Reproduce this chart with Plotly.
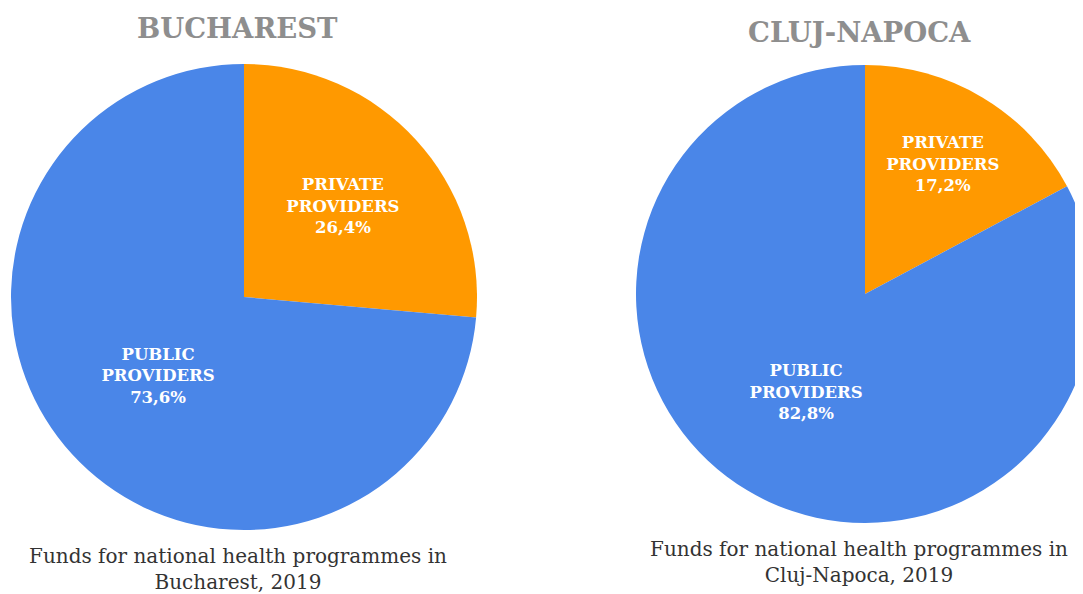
import plotly.graph_objects as go

categories = ["PRIVATE<br>PROVIDERS", "PUBLIC<br>PROVIDERS"]
bucharest_values = [26.4, 73.6]
cluj_values = [17.2, 82.8]
titles = ["BUCHAREST", "CLUJ-NAPOCA"]
captions = ["Funds for national health programmes in<br>Bucharest, 2019",
            "Funds for national health programmes in<br>Cluj-Napoca, 2019"]
colors = ["#FF9900", "#4A86E8"]

W, H = 1100, 594
OFF = 8  # page body margin offset
SERIF = "DejaVu Serif"

fig = go.Figure()

def px_x(x):
    return (x - OFF) / W

def px_y(y):
    return 1 - (y - OFF) / H

def add_pie(values, x0, x1, y0, y1):
    fig.add_trace(go.Pie(
        labels=categories,
        values=values,
        sort=False,
        direction="clockwise",
        rotation=0,
        marker=dict(colors=colors, line=dict(width=0)),
        texttemplate="%{label}<br>%{value:.1f}%",
        textposition="inside",
        insidetextorientation="horizontal",
        textfont=dict(family=SERIF, size=16.5, color="white", weight="bold"),
        hoverinfo="skip",
        showlegend=False,
        domain=dict(x=[px_x(x0), px_x(x1)], y=[px_y(y1), px_y(y0)]),
    ))

add_pie(bucharest_values, 11, 477, 64, 530)
add_pie(cluj_values, 636, 1094, 65, 523)

title_pos = [(237, 28), (859, 32)]
for t, (x, y) in zip(titles, title_pos):
    fig.add_annotation(text=t, x=px_x(x), y=px_y(y),
                       xref="paper", yref="paper", showarrow=False,
                       xanchor="center", yanchor="middle",
                       font=dict(family=SERIF, size=27.5, color="#8E8E8E", weight="bold"))

cap_pos = [(238, 569), (859, 562)]
for c, (x, y) in zip(captions, cap_pos):
    fig.add_annotation(text=c, x=px_x(x), y=px_y(y),
                       xref="paper", yref="paper", showarrow=False,
                       xanchor="center", yanchor="middle", align="center",
                       font=dict(family=SERIF, size=20, color="#333333"))

fig.update_layout(
    width=W, height=H,
    margin=dict(l=0, r=0, t=0, b=0),
    paper_bgcolor="white", plot_bgcolor="white",
    separators=",.",
)

fig.write_html(
    "out.html",
    post_script="document.documentElement.style.overflow='hidden';"
                "document.body.style.overflow='hidden';",
)
